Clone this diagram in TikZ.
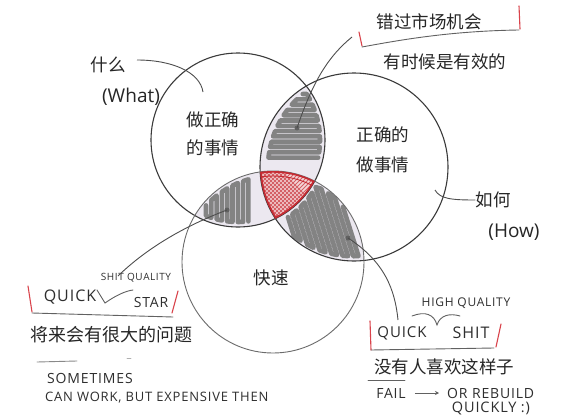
\documentclass[tikz,border=0pt]{standalone}
\usepackage{fontspec}
\newfontfamily\cjk{Noto Sans CJK SC}
\newfontfamily\latinf{Open Sans}
\newfontfamily\hand[LetterSpace=6]{Open Sans}
\usetikzlibrary{arrows.meta}
\definecolor{ink}{HTML}{3A3A3A}
\definecolor{lens}{HTML}{ECE8F0}
\definecolor{marker}{HTML}{838383}
\definecolor{redink}{HTML}{C62B33}
\definecolor{pinkfill}{HTML}{F4D6D8}
\definecolor{tickred}{HTML}{D9434B}
\begin{document}
\begin{tikzpicture}[x=1pt,y=-1pt,
  declare function={
    sq(\a)=(\a)*(\a);
    tl(\y)=354-sqrt(8836-sq(\y-167))+8;
    tr(\y)=238+sqrt(7569-sq(\y-140))-5;
    lt(\x)=262-sqrt(8281-sq(\x-273))+5;
    lb(\x)=140+sqrt(7569-sq(\x-238))-5;
    rbb(\x)=(\x/10-27.3)*0.301+(23-26.2)*0.954;
    rcc(\x)=sq(\x/10-27.3)+sq(23-26.2)-82.81;
    rtt(\x)=-rbb(\x)-sqrt(max(rbb(\x)*rbb(\x)-rcc(\x),0));
    rba(\x)=(\x/10-23.8)*0.301+(23-14)*0.954;
    rca(\x)=sq(\x/10-23.8)+81-75.69;
    rta(\x)=ifthenelse(rba(\x)*rba(\x)-rca(\x)>0,-rba(\x)+sqrt(max(rba(\x)*rba(\x)-rca(\x),0)),-99);
    rtop(\x)=max(rtt(\x),rta(\x))+0.5;
    rbc(\x)=(\x/10-35.4)*0.301+(23-16.7)*0.954;
    rcd(\x)=sq(\x/10-35.4)+sq(23-16.7)-88.36;
    rbot(\x)=-rbc(\x)+sqrt(max(rbc(\x)*rbc(\x)-rcd(\x),0))-0.5;
  },
  zh/.style={font=\cjk\fontsize{17.5}{22}\selectfont, text=black!85, inner sep=0pt},
  en/.style={font=\latinf\fontsize{19}{22}\selectfont, text=black!85, inner sep=0pt},
  hw/.style={font=\hand\fontsize{#1}{#1}\selectfont, text=black!82, inner sep=0pt},
  ring/.style={draw=ink, line width=1.1pt},
  ptr/.style={draw=ink!90, line width=0.9pt},
  redtick/.style={draw=tickred, line width=1.1pt, line cap=round},
  underl/.style={draw=ink!80, line width=0.9pt, line cap=round},
  stroke/.style={draw=marker, line width=4.6pt, line cap=round, line join=round},
  dotm/.style={fill=ink!80, circle, inner sep=0pt, minimum size=5pt}
]
\useasboundingbox[fill=white] (0,0) rectangle (562,420);
\coordinate (c1) at (238,140);
\coordinate (c2) at (354,167);
\coordinate (c3) at (273,262);

% lens fills
\begin{scope}
  \clip (c1) circle[radius=87pt];
  \fill[lens] (c2) circle[radius=94pt];
  \fill[lens] (c3) circle[radius=91pt];
\end{scope}
\begin{scope}
  \clip (c2) circle[radius=94pt];
  \fill[lens] (c3) circle[radius=91pt];
\end{scope}

% top lens scribble (horizontal meander)
\draw[stroke] ({tl(94)},94)
  foreach \y [count=\i] in {94,99.3,...,161} {
    -- ({ifthenelse(mod(\i,2)==1,tl(\y),tr(\y))},\y)
    -- ({ifthenelse(mod(\i,2)==1,tr(\y),tl(\y))},\y)
  };
% left-bottom lens scribble (vertical meander)
\draw[stroke] (206,{lt(206)})
  foreach \x [count=\i] in {206,211.3,...,253} {
    -- (\x,{ifthenelse(mod(\i,2)==1,lt(\x),lb(\x))})
    -- (\x,{ifthenelse(mod(\i,2)==1,lb(\x),lt(\x))})
  };
% right-bottom lens scribble (slanted meander)
\draw[stroke] ({292+10*rtop(292)*0.301},{230+10*rtop(292)*0.954})
  foreach \x [count=\i] in {292,297.3,...,354} {
    -- ({\x+10*0.301*ifthenelse(mod(\i,2)==1,rtop(\x),rbot(\x))},{230+10*0.954*ifthenelse(mod(\i,2)==1,rtop(\x),rbot(\x))})
    -- ({\x+10*0.301*ifthenelse(mod(\i,2)==1,rbot(\x),rtop(\x))},{230+10*0.954*ifthenelse(mod(\i,2)==1,rbot(\x),rtop(\x))})
  };

% triple region
\begin{scope}
  \clip (c1) circle[radius=87pt];
  \clip (c2) circle[radius=94pt];
  \clip (c3) circle[radius=91pt];
  \fill[pinkfill] (240,160) rectangle (330,230);
  \foreach \t in {200,204,...,400} {
    \draw[redink!75, line width=0.8pt] (\t,160) -- ++(-70,70);
    \draw[redink!75, line width=0.8pt] (\t-130,160) -- ++(70,70);
  }
\end{scope}

% circles
\draw[ring] (c1) circle[radius=87pt];
\draw[ring] (c2) circle[radius=94pt];
\draw[ring, draw=ink!75, line width=0.9pt] (c3) circle[radius=91pt];

% red outline of triple region
\begin{scope}
  \clip (c1) circle[radius=87pt];
  \clip (c2) circle[radius=94pt];
  \clip (c3) circle[radius=91pt];
  \draw[redink, line width=3.4pt] (c1) circle[radius=87pt];
  \draw[redink, line width=3.4pt] (c2) circle[radius=94pt];
  \draw[redink, line width=3.4pt] (c3) circle[radius=91pt];
  \draw[redink, line width=0.9pt] (c3) circle[radius=86pt];
\end{scope}

% texts
\node[zh] (miss) at (429,22) {错过市场机会};
\node[zh] (some) at (445,62) {有时候是有效的};
\node[zh] (what1) at (108,65) {什么};
\node[en] (what2) at (131,97) {(What)};
\node[zh] (l1) at (213,120) {做正确};
\node[zh] (l2) at (213,148) {的事情};
\node[zh] (r1) at (383,135) {正确的};
\node[zh] (r2) at (383,165) {做事情};
\node[zh] (how1) at (493,200) {如何};
\node[en] (how2) at (514,232) {(How)};
\node[zh] (fast) at (271,278) {快速};
\node[zh, font=\cjk\fontsize{18}{22}\selectfont] (prob) at (111,335) {将来会有很大的问题};
\node[zh] (nobody) at (444,367) {没有人喜欢这样子};

% handwritten texts
\node[hw=10] (shq) at (136,278) {SHIT QUALITY};
\node[hw=16] (qk1) at (70,297) {QUICK};
\node[hw=14] (star) at (151,302) {STAR};
\node[hw=14, anchor=west] (sometimes) at (47,378) {SOMETIMES};
\node[hw=13, anchor=west] (canwork) at (45,398) {CAN WORK, BUT EXPENSIVE THEN};
\node[hw=12] (hq) at (466,303) {HIGH QUALITY};
\node[hw=15] (qk2) at (402,333) {QUICK};
\node[hw=16] (shit) at (471,333) {SHIT};
\node[hw=14] (fail) at (391,393) {FAIL};
\node[hw=14, anchor=west] (reb) at (447,393) {OR REBUILD};
\node[hw=14.5] (qly) at (491,408) {QUICKLY :)};
\draw[ink!80, line width=0.9pt, -{Stealth[length=4pt,width=4pt]}] ([xshift=9pt]fail.east) -- ([xshift=-8pt]reb.west);

% pointer dots and connectors
\node[dotm] (d1) at (297,128) {};
\node[dotm] (d2) at (227,210) {};
\node[dotm] (d3) at (348,238) {};
\coordinate (e1) at (352,37);
\coordinate (e2) at (118,276);
\coordinate (e3) at (398,320);
\draw[ptr] (d1.center) .. controls (314,78) and (330,55) .. (e1);
\draw[ptr] (d2.center) .. controls (190,224) and (150,245) .. (e2);
\draw[ptr] (d3.center) .. controls (385,262) and (395,290) .. (e3);
\coordinate (h1) at (137,60);
\draw[ptr] (h1) .. controls (172,60) and (200,72) .. (203,92);
\coordinate (h2) at (435,190);
\draw[ptr] (h2) .. controls (440,199) and (452,200) .. (how1.west);

% brackets
\draw[redtick] (359,32) -- (362,46);
\draw[redtick] (519,6) -- (520,29);
\draw[underl] (362,47) .. controls (400,40) and (450,31) .. (519,30);

\draw[redtick] (28,286) -- (32,312);
\draw[redtick] (178,291) -- (172,313);
\draw[underl] (32,313) -- (173,317);
\draw[underl] (97,290) -- (105,303) .. controls (115,296) and (125,291) .. (133,290);

\draw[redtick] (370,321) -- (371,350);
\draw[redtick] (501,324) -- (496,347);
\draw[underl] (371,350) -- (494,348);
\draw[underl] (412,316) .. controls (425,311) and (434,314) .. (437,325) .. controls (440,315) and (450,313) .. (460,316);

\draw[underl] (368,380) -- (405,380);
\draw[underl, draw=ink!60] (37,362) -- (77,361);
\draw[underl, draw=ink!40] (127,358) -- (131,358);
\end{tikzpicture}
\end{document}
